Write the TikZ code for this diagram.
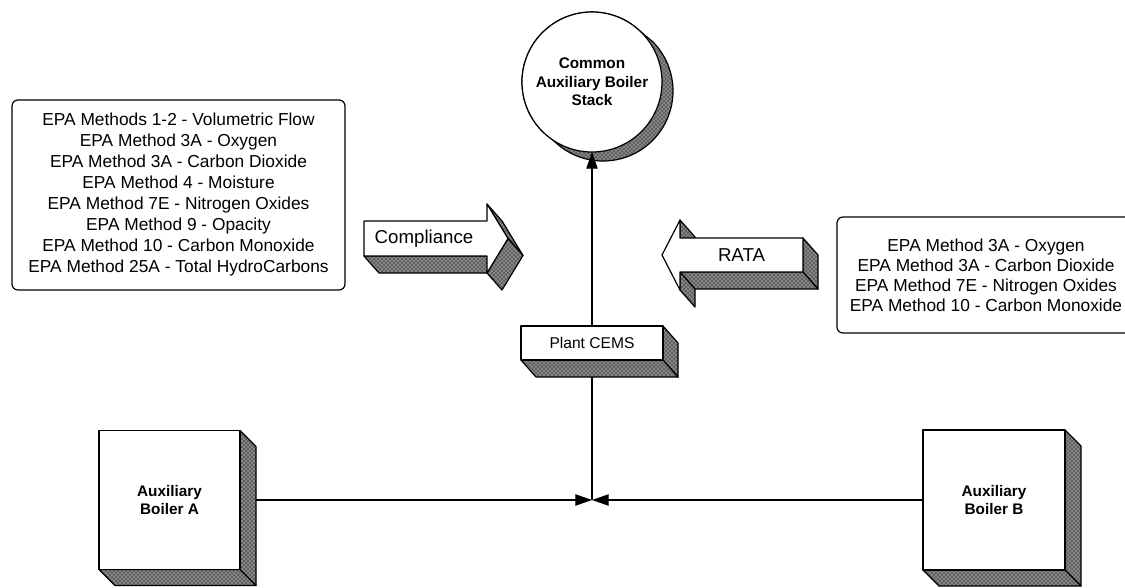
\documentclass[tikz,border=0pt]{standalone}
\usepackage{fontspec}
\setmainfont{Liberation Sans}
\usetikzlibrary{arrows.meta,patterns,calc,backgrounds}
\pgfdeclarelayer{shadelayer}
\pgfsetlayers{background,shadelayer,main}
\newcommand\extrudebox[3]{%
  \draw[texfill] (#1.north east) -- ($(#1.north east)+(#2,#3)$) -- ($(#1.south east)+(#2,#3)$) -- (#1.south east) -- cycle;
  \draw[texfill] (#1.south west) -- (#1.south east) -- ($(#1.south east)+(#2,#3)$) -- ($(#1.south west)+(#2,#3)$) -- cycle;}
\begin{document}
\begin{tikzpicture}[x=0.75pt,y=-0.75pt,
  every node/.style={inner sep=0pt,outer sep=0pt},
  texfill/.style={draw=black,line width=0.9pt,line join=round,preaction={fill=black!62},pattern=crosshatch dots,pattern color=white},
  frontface/.style={draw=black,line width=0.9pt,fill=white,line join=round},
  txt/.style={align=center},
  conn/.style={draw=black,line width=0.9pt},
  arrowto/.style={-{Triangle[length=12.5pt,width=8.5pt]}}]
\useasboundingbox (0,0) rectangle (1125,587);
\begin{pgfonlayer}{background}
  \fill[white] (0,0) rectangle (1125,587);
\end{pgfonlayer}

% Compliance arrow (front face)
\draw[frontface] (364,221) -- (487,221) -- (487,204) -- (508,238.5) -- (487,273) -- (487,256) -- (364,256) -- cycle;
\node[font=\fontsize{14}{16}\selectfont] (compliance) at (424,239) {Compliance};
% RATA arrow (front face)
\draw[frontface] (662,255) -- (680,220) -- (680,238) -- (803,238) -- (803,272) -- (680,272) -- (680,290) -- cycle;
\node[font=\fontsize{14}{16}\selectfont] (rata) at (741.5,255.5) {RATA};

% Nodes
\node[circle,frontface,minimum size=105pt,align=center,font=\bfseries\fontsize{11.5}{13.9}\selectfont] (stack) at (592,82) {Common\\Auxiliary Boiler\\Stack};
\node[rectangle,frontface,minimum width=106.5pt,minimum height=25.5pt,font=\fontsize{11.7}{14}\selectfont] (cems) at (592,343) {Plant CEMS};
\node[rectangle,frontface,minimum width=105.75pt,minimum height=104.25pt,align=center,font=\bfseries\fontsize{11.5}{13.5}\selectfont] (boilerA) at (169.5,500) {Auxiliary\\Boiler A};
\node[rectangle,frontface,minimum width=106.5pt,minimum height=105pt,align=center,font=\bfseries\fontsize{11.5}{13.5}\selectfont] (boilerB) at (994,500) {Auxiliary\\Boiler B};

\node[draw,line width=0.9pt,rounded corners=4.5pt,minimum width=249.75pt,minimum height=142.5pt,txt,font=\fontsize{13}{15.75}\selectfont] (leftbox) at (178.5,195)
 {EPA Methods 1-2 - Volumetric Flow\\EPA Method 3A - Oxygen\\EPA Method 3A - Carbon Dioxide\\EPA Method 4 - Moisture\\EPA Method 7E - Nitrogen Oxides\\EPA Method 9 - Opacity\\EPA Method 10 - Carbon Monoxide\\EPA Method 25A - Total HydroCarbons};
\node[draw,line width=0.9pt,rounded corners=4.5pt,minimum width=223.5pt,minimum height=87pt,txt,font=\fontsize{13}{15}\selectfont] (rightbox) at (986,275)
 {EPA Method 3A - Oxygen\\EPA Method 3A - Carbon Dioxide\\EPA Method 7E - Nitrogen Oxides\\EPA Method 10 - Carbon Monoxide};

% Extrusions
\begin{pgfonlayer}{shadelayer}
  \draw[texfill] (stack.center) ++(315:70) arc[start angle=315,end angle=135,radius=70] -- ++(11,9) arc[start angle=135,end angle=-45,radius=70] -- cycle;
  \extrudebox{cems}{15}{17}
  \extrudebox{boilerA}{16}{16}
  \extrudebox{boilerB}{16}{16}
  % Compliance
  \draw[texfill] (364,256) -- (487,256) -- (502,273) -- (379,273) -- cycle;
  \draw[texfill] (487,204) -- (508,238.5) -- (523,255.5) -- (502,221) -- cycle;
  \draw[texfill] (508,238.5) -- (487,273) -- (502,290) -- (523,255.5) -- cycle;
  % RATA
  \draw[texfill] (680,220) -- (695,237) -- (695,255) -- (680,238) -- cycle;
  \draw[texfill] (803,238) -- (818,255) -- (818,289) -- (803,272) -- cycle;
  \draw[texfill] (680,272) -- (803,272) -- (818,289) -- (695,289) -- cycle;
  \draw[texfill] (680,272) -- (695,289) -- (695,307) -- (680,290) -- cycle;
\end{pgfonlayer}

% Connectors
\coordinate (junction) at (592,500);
\coordinate (cemsback) at (592,377);
\coordinate (aside) at (255.5,500);
\draw[conn,arrowto] (cems.north) -- (stack.south);
\draw[conn] (cemsback) -- (junction);
\draw[conn,arrowto] (aside) -- (junction);
\draw[conn,arrowto] (boilerB.west) -- (junction);
\end{tikzpicture}
\end{document}
